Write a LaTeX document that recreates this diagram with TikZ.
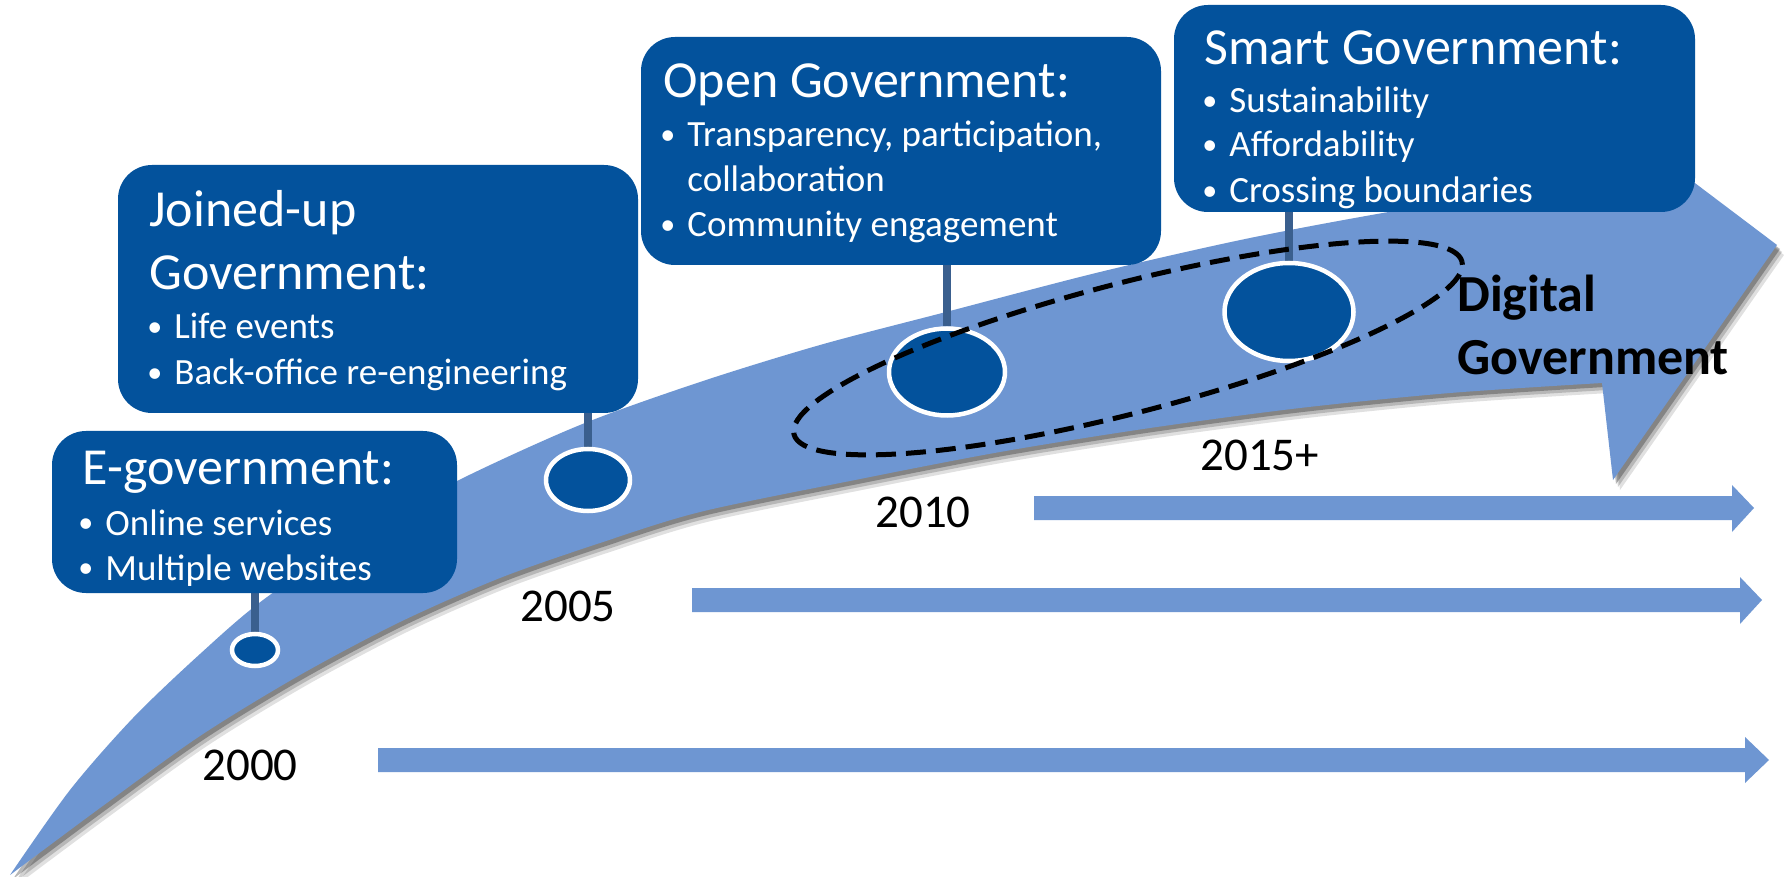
\documentclass[tikz,border=0pt]{standalone}
\usepackage{fontspec}
\setmainfont{Carlito}
\usetikzlibrary{shapes.geometric}
\definecolor{arrowblue}{HTML}{6E96D2}
\definecolor{boxblue}{HTML}{03529C}
\definecolor{stemblue}{HTML}{3A5F8E}
\pgfdeclarelayer{back}
\pgfdeclarelayer{mid}
\pgfsetlayers{back,mid,main}
\newcommand\bigArrowPath{%
  plot[smooth, tension=0.5] coordinates {(10,875) (70,790) (133,718) (200,654) (263,600) (360,535) (457,481) (580,425) (700,382) (820,345) (946,312) (1100,272) (1250,238) (1400,210) (1575,182)}
  -- (1569,88) -- (1777,245) -- (1613,480) -- (1602,383)
  -- plot[smooth, tension=0.5] coordinates {(1602,383) (1450,393) (1300,408) (1150,428) (1000,452) (850,481) (700,512) (600,543) (500,578) (400,622) (300,675) (200,736) (100,808) (10,875)}
  -- cycle}
\begin{document}
\begin{tikzpicture}[x=0.5pt,y=-0.5pt,
  gbox/.style={fill=boxblue, rounded corners=17pt, inner sep=0pt, draw=none},
  title/.style={anchor=base west, text=white, font=\fontsize{26}{30}\selectfont, inner sep=0pt},
  item/.style={anchor=base west, text=white, font=\fontsize{18.5}{22}\selectfont, inner sep=0pt},
  year/.style={anchor=base, font=\fontsize{23.5}{28}\selectfont, inner sep=0pt},
  dot/.style={ellipse, fill=boxblue, draw=white, line width=2.25pt, inner sep=0pt},
  stem/.style={draw=stemblue, line width=4pt},
  digital/.style={anchor=base west, font=\fontsize{26}{30}\selectfont\bfseries, inner sep=0pt}]
\newcommand\bul{\llap{\raisebox{1.3pt}{\fontsize{15}{15}\selectfont •}\hspace{6pt}}}
\useasboundingbox (0,0) rectangle (1790,877);
\begin{pgfonlayer}{back}
  \fill[white] (0,0) rectangle (1790,877);
  \begin{scope}[shift={(7,10)}]
    \fill[black, opacity=0.12] \bigArrowPath;
  \end{scope}
  \begin{scope}[shift={(5,7)}]
    \fill[black, opacity=0.18] \bigArrowPath;
  \end{scope}
  \begin{scope}[shift={(3,4)}]
    \fill[black, opacity=0.28] \bigArrowPath;
  \end{scope}
  \fill[arrowblue] \bigArrowPath;
  % horizontal time arrows
  \fill[arrowblue] (1034,496) -- (1732,496) -- (1732,485) -- (1754,508) -- (1732,532) -- (1732,520) -- (1034,520) -- cycle;
  \fill[arrowblue] (692,588) -- (1740,588) -- (1740,577) -- (1762,600) -- (1740,624) -- (1740,612) -- (692,612) -- cycle;
  \fill[arrowblue] (378,748) -- (1745,748) -- (1745,737) -- (1769,760) -- (1745,783) -- (1745,772) -- (378,772) -- cycle;
\end{pgfonlayer}

% boxes
\node[gbox, minimum width=202.5pt, minimum height=81pt] (bE) at (254.5,512) {};
\node[gbox, minimum width=260pt, minimum height=124pt] (bJ) at (378,289) {};
\node[gbox, minimum width=260pt, minimum height=114pt] (bO) at (901,151) {};
\node[gbox, minimum width=260.5pt, minimum height=103.5pt] (bS) at (1434.5,108.5) {};

% milestone dots
\node[dot, minimum width=23pt, minimum height=16pt] (eE) at (255,650) {};
\node[dot, minimum width=42pt, minimum height=31pt] (eJ) at (588,480) {};
\node[dot, minimum width=58pt, minimum height=43.5pt] (eO) at (947,372) {};
\node[dot, minimum width=64.5pt, minimum height=49pt] (eS) at (1289,312) {};

% stems
\begin{pgfonlayer}{mid}
  \draw[stem] (eE.north |- bE.south) -- (eE.north);
  \draw[stem] (eJ.north |- bJ.south) -- (eJ.north);
  \draw[stem] (eO.north |- bO.south) -- (eO.north);
  \draw[stem] (eS.north |- bS.south) -- (eS.north);
\end{pgfonlayer}

% dashed digital government ellipse
\node[ellipse, draw=black, line width=2.5pt, dash pattern=on 10pt off 5pt, minimum width=345pt, minimum height=65pt, inner sep=0pt, rotate=14.5] (dg) at (1128,348) {};

% box texts
\node[title] (tE) at (82,485) {E-government:};
\node[item] (iE1) at (105,535) {\bul Online services};
\node[item] (iE2) at (105,580) {\bul Multiple websites};

\node[title] (tJ1) at (149,227) {Joined-up};
\node[title] (tJ2) at (149,290) {Government:};
\node[item] (iJ1) at (174,339) {\bul Life events};
\node[item] (iJ2) at (174,385) {\bul Back-office re-engineering};

\node[title] (tO) at (663,98) {Open Government:};
\node[item] (iO1) at (687,147) {\bul Transparency, participation,};
\node[item] (iO2) at (687,192) {collaboration};
\node[item] (iO3) at (687,237) {\bul Community engagement};

\node[title] (tS) at (1204,65) {Smart Government:};
\node[item] (iS1) at (1229,113) {\bul Sustainability};
\node[item] (iS2) at (1229,157) {\bul Affordability};
\node[item] (iS3) at (1229,203) {\bul Crossing boundaries};

% years
\node[year] (y2000) at (250,780) {2000};
\node[year] (y2005) at (568,621) {2005};
\node[year] (y2010) at (923,527) {2010};
\node[year, anchor=base west] (y2015) at (1200,471) {2015+};

% label
\node[digital] (dg1) at (1457,312) {Digital};
\node[digital] (dg2) at (1457,375) {Government};
\end{tikzpicture}
\end{document}
